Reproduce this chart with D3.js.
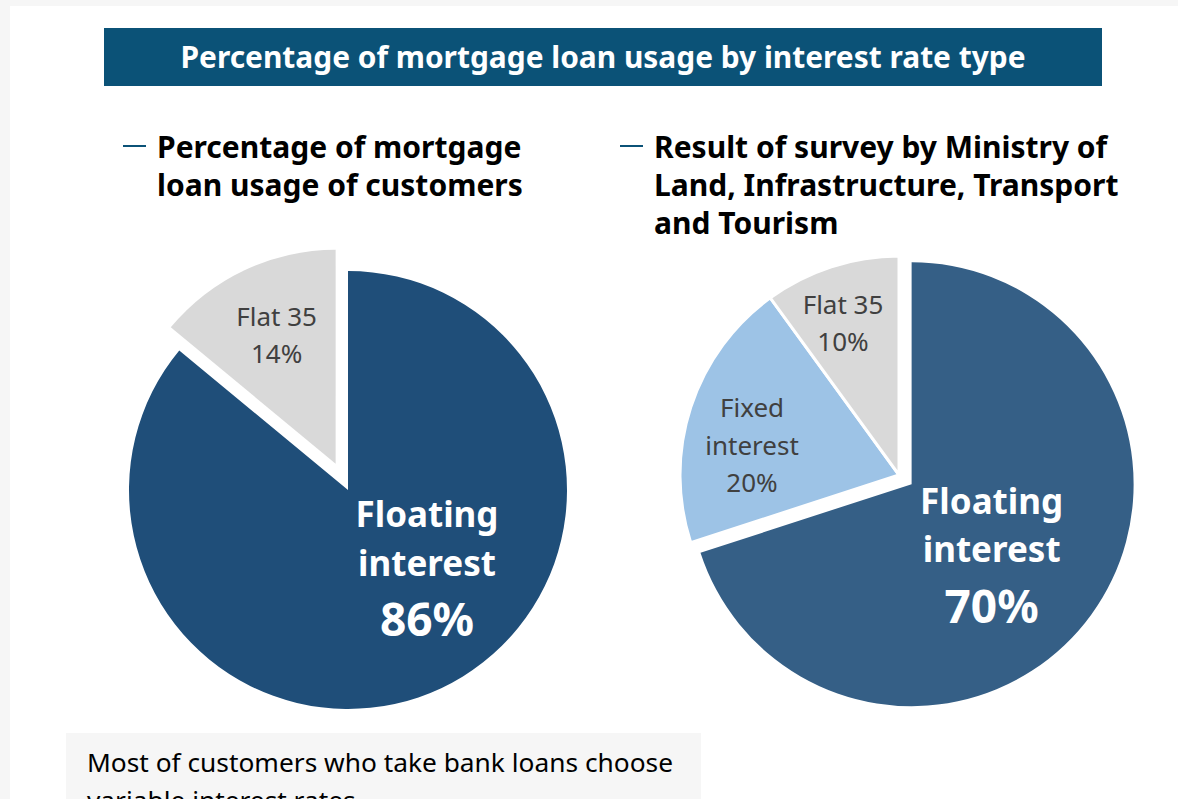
<!DOCTYPE html>
<html>
<head>
<meta charset="utf-8">
<script src="https://cdn.jsdelivr.net/npm/d3@7"></script>
<style>
  html, body { margin: 0; padding: 0; background: #f6f6f6; }
  svg { display: block; }
  text { font-family: "Noto Sans", "Open Sans", sans-serif; }
</style>
</head>
<body>
<svg id="chart" width="1178" height="799"></svg>
<script>
// Chart data
const titleText = "Percentage of mortgage loan usage by interest rate type";

const customerTitle = ["Percentage of mortgage", "loan usage of customers"];
const customerCategories = ["Floating interest", "Flat 35"];
const customerValues = [86, 14];

const surveyTitle = ["Result of survey by Ministry of", "Land, Infrastructure, Transport", "and Tourism"];
const surveyCategories = ["Floating interest", "Fixed interest", "Flat 35"];
const surveyValues = [70, 20, 10];

const noteLines = ["Most of customers who take bank loans choose", "variable interest rates"];

// Drawing
const svg = d3.select("#chart");
const W = 1178, H = 799;

// white panel on light grey page
svg.append("rect").attr("x", 10).attr("y", 6).attr("width", W - 10).attr("height", H - 6).attr("fill", "#ffffff");

// title banner
svg.append("rect").attr("x", 104).attr("y", 28).attr("width", 998).attr("height", 58).attr("fill", "#0b5277");
svg.append("text").attr("x", 603).attr("y", 68).attr("text-anchor", "middle")
  .attr("fill", "#ffffff").attr("font-weight", 700).attr("font-size", 29.5)
  .attr("textLength", 845).attr("lengthAdjust", "spacingAndGlyphs").text(titleText);

// section headings with a short leading rule
function heading(x, lines) {
  svg.append("line").attr("x1", x).attr("x2", x + 23).attr("y1", 146).attr("y2", 146)
    .attr("stroke", "#0b5277").attr("stroke-width", 2);
  const t = svg.append("text").attr("x", x + 34).attr("y", 158)
    .attr("font-weight", 700).attr("font-size", 30).attr("fill", "#000");
  lines.forEach((l, i) => t.append("tspan").attr("x", x + 34).attr("dy", i ? 38 : 0).text(l));
}
heading(123, customerTitle);
heading(620, surveyTitle);

// pie helper: each slice has its own explode offset & radius
function drawPie(cfg) {
  const pie = d3.pie().sort(null).startAngle(0).endAngle(2 * Math.PI).value(d => d.value);
  const data = cfg.categories.map((c, i) => ({ name: c, value: cfg.values[i] }));
  const arcs = pie(data);
  const g = svg.append("g").attr("transform", `translate(${cfg.cx},${cfg.cy})`);
  arcs.forEach((a) => {
    const st = cfg.style[a.data.name];
    const mid = (a.startAngle + a.endAngle) / 2;
    const dx = Math.sin(mid) * st.explode, dy = -Math.cos(mid) * st.explode;
    const arc = d3.arc().innerRadius(0).outerRadius(st.radius);
    const sg = g.append("g").attr("transform", `translate(${dx},${dy})`);
    sg.append("path").attr("d", arc(a)).attr("fill", st.fill)
      .attr("stroke", "#ffffff").attr("stroke-width", st.stroke || 0).attr("stroke-linejoin", "miter");
    // label: name words on separate lines, then the percentage
    const words = a.data.name === "Flat 35" ? ["Flat 35"] : a.data.name.split(" ");
    const lines = words.map(w => ({ t: w, size: st.fontSize }))
      .concat([{ t: a.data.value + "%", size: st.pctSize }]);
    const t = sg.append("text").attr("text-anchor", "middle").attr("fill", st.textColor)
      .attr("font-weight", st.bold ? 700 : 400);
    lines.forEach((l, j) => {
      t.append("tspan").attr("x", st.lx).attr("y", st.ly + st.gaps[j])
        .attr("font-size", l.size).text(l.t);
    });
  });
}

drawPie({
  cx: 348, cy: 490,
  categories: customerCategories, values: customerValues,
  style: {
    "Floating interest": { fill: "#1f4e79", radius: 219, explode: 0, textColor: "#ffffff", bold: true,
      fontSize: 35, pctSize: 46, lx: 79, ly: 37, gaps: [0, 49, 109] },
    "Flat 35": { fill: "#d9d9d9", radius: 214, explode: 29, textColor: "#404040", bold: false,
      fontSize: 26, pctSize: 26, lx: -59, ly: -138, gaps: [0, 37] }
  }
});

drawPie({
  cx: 899, cy: 475,
  categories: surveyCategories, values: surveyValues,
  style: {
    "Floating interest": { fill: "#355f86", radius: 222, explode: 15.6, textColor: "#ffffff", bold: true,
      fontSize: 35, pctSize: 46, lx: 80, ly: 30, gaps: [0, 48, 109] },
    "Fixed interest": { fill: "#9dc3e6", radius: 219, explode: 0, textColor: "#404040", bold: false,
      fontSize: 26, pctSize: 26, lx: -147, ly: -58, gaps: [0, 38, 75], stroke: 3 },
    "Flat 35": { fill: "#d9d9d9", radius: 219, explode: 0, textColor: "#404040", bold: false,
      fontSize: 26, pctSize: 26, lx: -56, ly: -161, gaps: [0, 37], stroke: 3 }
  }
});

// note box
svg.append("rect").attr("x", 66).attr("y", 733).attr("width", 635).attr("height", 80).attr("fill", "#f6f6f6");
const note = svg.append("text").attr("x", 87).attr("y", 772).attr("font-size", 26.3).attr("fill", "#000");
noteLines.forEach((l, i) => note.append("tspan").attr("x", 87).attr("dy", i ? 38 : 0).text(l));
</script>
</body>
</html>
